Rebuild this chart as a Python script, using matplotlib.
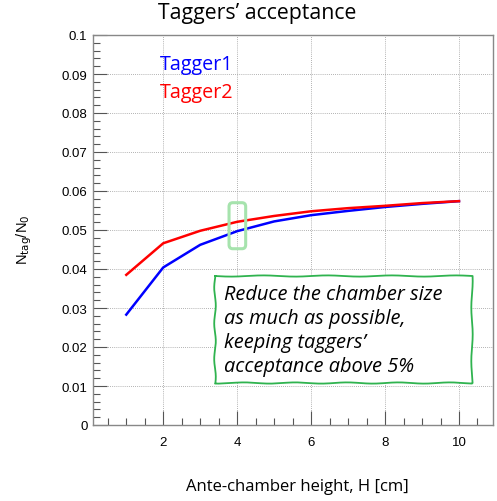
import numpy as np
import matplotlib
matplotlib.use("Agg")
import matplotlib.pyplot as plt
from matplotlib.patches import FancyBboxPatch, Polygon
from matplotlib.ticker import MultipleLocator

H = [1, 2, 3, 4, 5, 6, 7, 8, 9, 10]
tagger1 = [0.0283, 0.0404, 0.0462, 0.0497, 0.0522, 0.0538, 0.0549, 0.0559, 0.0567, 0.0574]
tagger2 = [0.0385, 0.0466, 0.0498, 0.0521, 0.0536, 0.0548, 0.0556, 0.0562, 0.0569, 0.0574]
yticks = [0, 0.01, 0.02, 0.03, 0.04, 0.05, 0.06, 0.07, 0.08, 0.09, 0.1]
ytick_labels = ["0", "0.01", "0.02", "0.03", "0.04", "0.05", "0.06", "0.07", "0.08", "0.09", "0.1"]
xticks = [2, 4, 6, 8, 10]
xtick_labels = ["2", "4", "6", "8", "10"]
note_lines = ["Reduce the chamber size", "as much as possible,",
              "keeping taggers\u2019", "acceptance above 5%"]

fig = plt.figure(figsize=(4.97, 5.02), dpi=100)
ax = fig.add_axes([93/497, 1-426/502, 400/497, 390/502])
ax.set_xlim(0.1, 10.92)
ax.set_ylim(0, 0.1)

ax.plot(H, tagger1, color="#0000ff", lw=1.8, zorder=3)
ax.plot(H, tagger2, color="#ff0000", lw=1.8, zorder=3)

ax.set_xticks(xticks)
ax.set_xticklabels(xtick_labels)
ax.set_yticks(yticks)
ax.set_yticklabels(ytick_labels)
ax.xaxis.set_minor_locator(MultipleLocator(0.5))
ax.yaxis.set_minor_locator(MultipleLocator(0.002))
ax.tick_params(which="major", direction="in", length=10, color="#555555", width=0.8,
               labelsize=9.5, pad=4)
ax.tick_params(which="minor", direction="in", length=5, color="#555555", width=0.8)
ax.tick_params(axis="x", pad=8)
for lab in ax.get_xticklabels() + ax.get_yticklabels():
    lab.set_fontfamily("Liberation Sans")
for s in ax.spines.values():
    s.set_color("#888888")
    s.set_linewidth(1.0)
ax.grid(True, which="major", ls=(0, (1, 1.5)), color="#999999", lw=0.6)
ax.set_axisbelow(True)

fig.text(257/497, 1-13/502, "Taggers\u2019 acceptance", ha="center", va="center",
         fontsize=15.3, family="Open Sans")
fig.text(297/497, 1-487/502, "Ante-chamber height, H [cm]", ha="center", va="center",
         fontsize=12, family="Open Sans")
fig.text(24/497, 1-240/502, r"N$_{\rm tag}$/N$_{\rm 0}$", ha="center", va="center",
         rotation=90, fontsize=10.5, family="Liberation Sans")

ax.text(1.92, 0.0926, "Tagger1", color="#0000ff", fontsize=14.2, family="Open Sans",
        ha="left", va="center")
ax.text(1.92, 0.0854, "Tagger2", color="#ff0000", fontsize=14.2, family="Open Sans",
        ha="left", va="center")

# highlight rectangle around H=4
rect = FancyBboxPatch((3.78, 0.0452), 0.45, 0.0118,
                      boxstyle="round,pad=0,rounding_size=0.1",
                      fill=False, ec="#a6e3ad", lw=2.2, zorder=4,
                      mutation_aspect=0.01)
ax.add_patch(rect)

# wavy annotation box (in pixel coordinates of the figure)
x0, x1, y0, y1 = 215, 472, 277, 384
def wavy(a, b, n, amp, ph, k):
    t = np.linspace(0, 1, n)
    return a + (b - a) * t, amp * np.sin(t * 2 * np.pi * k + ph)
pts_x, pts_y = [], []
tx, off = wavy(x0, x1, 200, 0.6, 0.0, 4)
pts_x += list(tx); pts_y += list(y0 + off)
ty, off = wavy(y0, y1, 100, 0.7, 1.0, 2)
pts_x += list(x1 + off); pts_y += list(ty)
tx, off = wavy(x1, x0, 200, 0.6, 2.0, 5)
pts_x += list(tx); pts_y += list(y1 + off)
ty, off = wavy(y1, y0, 100, 0.8, 0.5, 3)
pts_x += list(x0 + off); pts_y += list(ty)
pts_x = np.array(pts_x) / 497
pts_y = 1 - np.array(pts_y) / 502
fig.add_artist(Polygon(np.column_stack([pts_x, pts_y]), closed=True, transform=fig.transFigure,
                       fc="white", ec="none", zorder=4))
fig.add_artist(plt.Line2D(pts_x, pts_y, transform=fig.transFigure, color="#2fb34f", lw=1.3,
                          zorder=5))

for i, line in enumerate(note_lines):
    fig.text(224/497, 1-(294.5 + 24.2*i)/502, line, ha="left", va="center", fontsize=14.4,
             style="italic", family="Open Sans", zorder=6)

fig.savefig("out.png", dpi=100)
